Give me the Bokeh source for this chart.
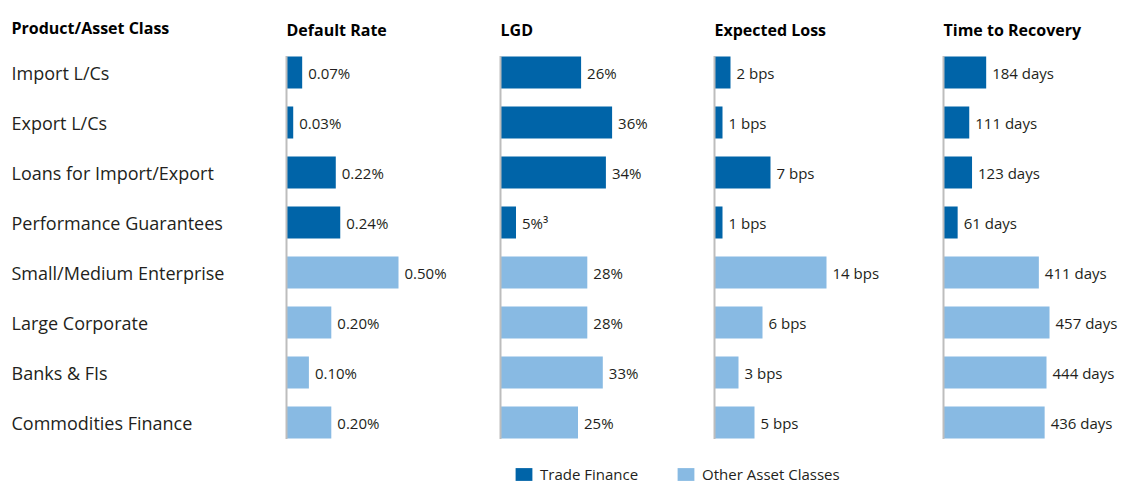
from bokeh.plotting import figure
from bokeh.layouts import row, column
from bokeh.models import ColumnDataSource, Range1d, Legend, LegendItem
from bokeh.core.properties import value
from bokeh.embed import file_html
from bokeh.resources import INLINE

categories = ["Import L/Cs", "Export L/Cs", "Loans for Import/Export", "Performance Guarantees",
              "Small/Medium Enterprise", "Large Corporate", "Banks & FIs", "Commodities Finance"]
groups = ["Trade Finance"] * 4 + ["Other Asset Classes"] * 4
default_rate = [0.07, 0.03, 0.22, 0.24, 0.50, 0.20, 0.10, 0.20]
lgd = [26, 36, 34, 5, 28, 28, 33, 25]
expected_loss = [2, 1, 7, 1, 14, 6, 3, 5]
time_to_recovery = [184, 111, 123, 61, 411, 457, 444, 436]

default_labels = [f"{v:.2f}%" for v in default_rate]
lgd_labels = [f"{v}%" for v in lgd]
lgd_labels[3] = "5%\u00b3"
el_labels = [f"{v} bps" for v in expected_loss]
ttr_labels = [f"{v} days" for v in time_to_recovery]

DARK = "#0064A8"
LIGHT = "#88BAE3"
colors = [DARK if g == "Trade Finance" else LIGHT for g in groups]
FONT = "Open Sans"
TXT = "#231F20"

ypos = list(range(len(categories)))
H = 450
Y_RANGE = (7.56, -1.44)
TITLE_Y = -0.86


def base_fig(width, x0, x1):
    p = figure(width=width, height=H, output_backend="svg", toolbar_location=None,
               x_range=Range1d(x0, x1), y_range=Range1d(*Y_RANGE),
               min_border=0, min_border_left=0, min_border_right=0,
               min_border_top=0, min_border_bottom=0,
               x_axis_location=None, y_axis_location=None)
    p.grid.visible = False
    p.outline_line_color = None
    p.background_fill_color = None
    p.border_fill_color = None
    return p


# label column
lab = base_fig(284, 0, 284)
lab.text(x=[11] * len(categories), y=ypos, text=categories, text_font=value(FONT),
         text_font_size="18px", text_color=TXT, text_baseline="middle", text_align="left")
lab.text(x=[11], y=[-0.90], text=["Product/Asset Class"], text_font=value(FONT),
         text_font_style="bold", text_font_size="16px", text_color="#000000",
         text_baseline="middle", text_align="left")


def panel(title, vals, labels, width, scale):
    left_pad = 2
    p = base_fig(width, -left_pad / scale, (width - left_pad) / scale)
    src = ColumnDataSource(dict(y=ypos, v=vals, lab=labels, c=colors))
    p.hbar(y="y", left=0, right="v", height=0.64, fill_color="c", line_color=None, source=src)
    p.segment(x0=[0], y0=[-0.33], x1=[0], y1=[7.33], line_color="#BDBDBD", line_width=2)
    p.text(x="v", y="y", text="lab", source=src, x_offset=6, text_font=value(FONT),
           text_font_size="15px", text_color=TXT, text_baseline="middle", text_align="left")
    p.text(x=[0], y=[TITLE_Y], text=[title], text_font=value(FONT), text_font_style="bold",
           text_font_size="16px", text_color="#000000", text_baseline="middle", text_align="left")
    return p


p1 = panel("Default Rate", default_rate, default_labels, 214, 224.0)
p2 = panel("LGD", lgd, lgd_labels, 214, 3.1)
p3 = panel("Expected Loss", expected_loss, el_labels, 229, 8.0)
p4 = panel("Time to Recovery", time_to_recovery, ttr_labels, 178, 0.232)

# legend strip
leg = figure(width=1119, height=34, output_backend="svg", toolbar_location=None,
             x_range=Range1d(0, 1), y_range=Range1d(0, 1), min_border=0,
             x_axis_location=None, y_axis_location=None)
leg.grid.visible = False
leg.outline_line_color = None
leg.background_fill_color = None
leg.border_fill_color = None
hidden = ColumnDataSource(dict(y=[10000], r=[0]))
r1 = leg.hbar(y="y", right="r", height=0, fill_color=DARK, line_color=None, source=hidden)
r2 = leg.hbar(y="y", right="r", height=0, fill_color=LIGHT, line_color=None, source=hidden)
legend = Legend(items=[LegendItem(label="Trade Finance", renderers=[r1]),
                       LegendItem(label="Other Asset Classes", renderers=[r2])],
                orientation="horizontal", location=(513, 0), padding=0, margin=0,
                glyph_width=21, glyph_height=16, label_height=16, label_standoff=6,
                spacing=37, label_text_font=FONT, label_text_font_size="15px",
                label_text_color=TXT, border_line_color=None, background_fill_alpha=0)
leg.add_layout(legend)

layout = column(row(lab, p1, p2, p3, p4), leg)
open("out.html", "w").write(file_html(layout, INLINE))
